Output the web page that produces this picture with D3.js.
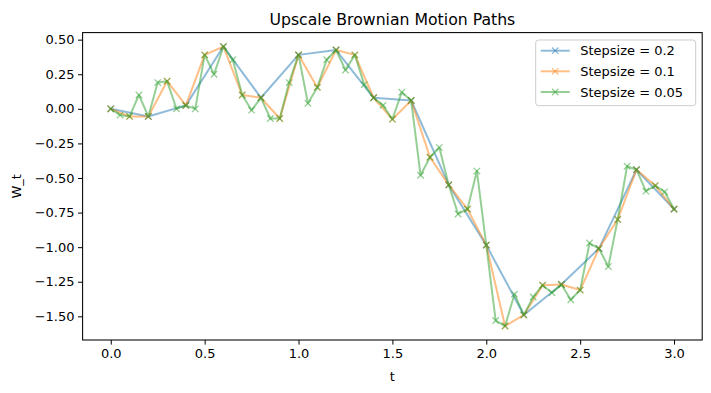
<!DOCTYPE html>
<html>
<head>
<meta charset="utf-8">
<script src="https://cdn.jsdelivr.net/npm/d3@7"></script>
<style>
  html, body { margin: 0; padding: 0; background: #fff; }
  text { font-family: "DejaVu Sans", sans-serif; }
</style>
</head>
<body>
<svg id="chart" width="711" height="393"></svg>
<script>
// ---- data ----
const seriesNames = ["Stepsize = 0.2", "Stepsize = 0.1", "Stepsize = 0.05"];
const seriesColors = ["#1f77b4", "#ff7f0e", "#2ca02c"];

const t02 = [0.0, 0.2, 0.4, 0.6, 0.8, 1.0, 1.2, 1.4, 1.6, 1.8, 2.0, 2.2, 2.4, 2.6, 2.8, 3.0];
const w02 = [0, -0.055, 0.025, 0.45, 0.08, 0.39, 0.425, 0.08, 0.06, -0.55, -0.985, -1.49, -1.27, -1.01, -0.44, -0.725];

const t01 = [0.0, 0.1, 0.2, 0.3, 0.4, 0.5, 0.6, 0.7, 0.8, 0.9, 1.0, 1.1, 1.2, 1.3, 1.4, 1.5,
             1.6, 1.7, 1.8, 1.9, 2.0, 2.1, 2.2, 2.3, 2.4, 2.5, 2.6, 2.7, 2.8, 2.9, 3.0];
const w01 = [0, -0.055, -0.055, 0.20, 0.025, 0.39, 0.45, 0.10, 0.08, -0.07, 0.39, 0.155, 0.425, 0.39, 0.08, -0.075,
             0.06, -0.35, -0.55, -0.725, -0.985, -1.57, -1.49, -1.275, -1.27, -1.31, -1.01, -0.80, -0.44, -0.555, -0.725];

const t005 = [0.0, 0.05, 0.1, 0.15, 0.2, 0.25, 0.3, 0.35, 0.4, 0.45, 0.5, 0.55, 0.6, 0.65, 0.7, 0.75,
              0.8, 0.85, 0.9, 0.95, 1.0, 1.05, 1.1, 1.15, 1.2, 1.25, 1.3, 1.35, 1.4, 1.45, 1.5, 1.55,
              1.6, 1.65, 1.7, 1.75, 1.8, 1.85, 1.9, 1.95, 2.0, 2.05, 2.1, 2.15, 2.2, 2.25, 2.3, 2.35,
              2.4, 2.45, 2.5, 2.55, 2.6, 2.65, 2.7, 2.75, 2.8, 2.85, 2.9, 2.95, 3.0];
const w005 = [0, -0.045, -0.055, 0.10, -0.055, 0.19, 0.20, 0.00, 0.025, 0.00, 0.39, 0.25, 0.45, 0.355, 0.10, -0.01,
              0.08, -0.07, -0.07, 0.19, 0.39, 0.04, 0.155, 0.355, 0.425, 0.28, 0.39, 0.175, 0.08, 0.025, -0.075, 0.12,
              0.06, -0.48, -0.35, -0.28, -0.55, -0.76, -0.725, -0.45, -0.985, -1.53, -1.57, -1.34, -1.49, -1.36, -1.275, -1.33,
              -1.27, -1.38, -1.31, -0.97, -1.01, -1.14, -0.80, -0.415, -0.44, -0.595, -0.555, -0.60, -0.725];

const xTicks = [0.0, 0.5, 1.0, 1.5, 2.0, 2.5, 3.0];
const yTicks = [0.50, 0.25, 0.00, -0.25, -0.50, -0.75, -1.00, -1.25, -1.50];

const titleText = "Upscale Brownian Motion Paths";
const xLabel = "t";
const yLabel = "W_t";

(function () {
// ---- layout ----
const W = 711, H = 393;
const mLeft = 82.6, mRight = 702.2, mTop = 32.6, mBottom = 340;
const fs = 13;

const series = [
  t02.map((t, i) => ({t, w: w02[i]})),
  t01.map((t, i) => ({t, w: w01[i]})),
  t005.map((t, i) => ({t, w: w005[i]}))
];

const allT = [...t02, ...t01, ...t005];
const allW = [...w02, ...w01, ...w005];
const tExt = d3.extent(allT), wExt = d3.extent(allW);
const tPad = (tExt[1] - tExt[0]) * 0.05, wPad = (wExt[1] - wExt[0]) * 0.05;

const x = d3.scaleLinear().domain([tExt[0] - tPad, tExt[1] + tPad]).range([mLeft, mRight]);
const y = d3.scaleLinear().domain([wExt[0] - wPad, wExt[1] + wPad]).range([mBottom, mTop]);

const svg = d3.select("#chart");
svg.append("rect").attr("width", W).attr("height", H).attr("fill", "#fff");

// ---- lines ----
const line = d3.line().x(d => x(d.t)).y(d => y(d.w));
const ms = 3.2;
function xMarker(g, px, py, color) {
  g.append("path")
    .attr("d", `M${px - ms},${py - ms}L${px + ms},${py + ms}M${px - ms},${py + ms}L${px + ms},${py - ms}`)
    .attr("stroke", color).attr("stroke-width", 1.3).attr("fill", "none")
    .attr("stroke-opacity", 0.5);
}

const plot = svg.append("g");
series.forEach((s, i) => {
  plot.append("path").datum(s)
    .attr("d", line)
    .attr("fill", "none")
    .attr("stroke", seriesColors[i])
    .attr("stroke-width", 2)
    .attr("stroke-opacity", 0.5)
    .attr("stroke-linejoin", "round")
    .attr("stroke-linecap", "square");
  const mg = plot.append("g");
  s.forEach(d => xMarker(mg, x(d.t), y(d.w), seriesColors[i]));
});

// ---- axes ----
const xAxis = d3.axisBottom(x).tickValues(xTicks).tickSize(4.6).tickPadding(4.5).tickFormat(d3.format(".1f"));
const yAxis = d3.axisLeft(y).tickValues(yTicks).tickSize(4.6).tickPadding(3.5).tickFormat(d3.format(".2f"));

const gx = svg.append("g").attr("transform", `translate(0,${mBottom})`).call(xAxis);
const gy = svg.append("g").attr("transform", `translate(${mLeft},0)`).call(yAxis);
[gx, gy].forEach(g => {
  g.select(".domain").remove();
  g.selectAll(".tick line").attr("stroke", "#000").attr("stroke-width", 1);
  g.selectAll(".tick text").attr("fill", "#000").style("font-size", fs + "px")
    .style("font-family", "DejaVu Sans");
});

// frame
svg.append("rect")
  .attr("x", mLeft).attr("y", mTop).attr("width", mRight - mLeft).attr("height", mBottom - mTop)
  .attr("fill", "none").attr("stroke", "#000").attr("stroke-width", 1.05);

// title & labels
svg.append("text").attr("x", (mLeft + mRight) / 2).attr("y", 25)
  .attr("text-anchor", "middle").style("font-size", "15.7px").text(titleText);
svg.append("text").attr("x", (mLeft + mRight) / 2).attr("y", 381)
  .attr("text-anchor", "middle").style("font-size", fs + "px").text(xLabel);
svg.append("text")
  .attr("transform", `translate(21,${(mTop + mBottom) / 2}) rotate(-90)`)
  .attr("text-anchor", "middle").style("font-size", fs + "px").text(yLabel);

// ---- legend ----
const lg = svg.append("g");
const lx = 535.7, ly = 40, lw = 160, lh = 65.7;
lg.append("rect").attr("x", lx).attr("y", ly).attr("width", lw).attr("height", lh)
  .attr("rx", 3).attr("ry", 3)
  .attr("fill", "#fff").attr("fill-opacity", 0.8)
  .attr("stroke", "#cccccc").attr("stroke-width", 1);
const rowY = [50.7, 71.3, 92];
seriesNames.forEach((name, i) => {
  const yy = rowY[i];
  lg.append("line").attr("x1", lx + 5).attr("x2", lx + 34).attr("y1", yy).attr("y2", yy)
    .attr("stroke", seriesColors[i]).attr("stroke-width", 2).attr("stroke-opacity", 0.5);
  xMarker(lg, lx + 19.5, yy, seriesColors[i]);
  lg.append("text").attr("x", lx + 44.5).attr("y", yy).attr("dy", "0.36em")
    .style("font-size", fs + "px").text(name);
});
})();
</script>
</body>
</html>
